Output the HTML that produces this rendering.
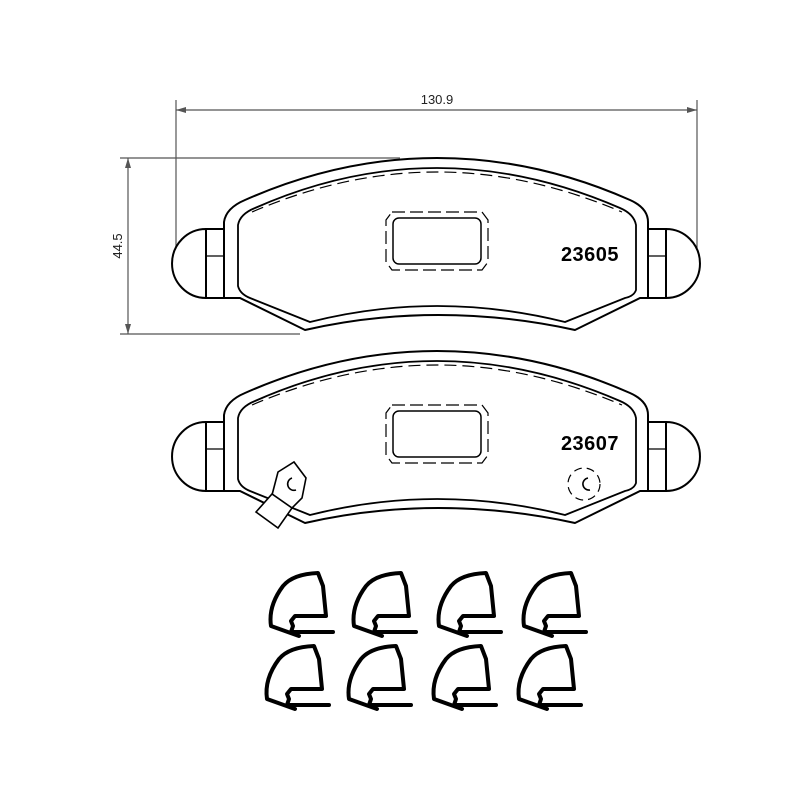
<!DOCTYPE html>
<html><head><style>body{margin:0;background:#fff}svg{display:block}</style></head><body>
<svg width="800" height="800" viewBox="0 0 800 800" xmlns="http://www.w3.org/2000/svg">
<defs>
<g id="pad" fill="none" stroke="#000" stroke-width="2">
  <path d="M206,229 A34,34.5 0 0 0 206,298 Z" fill="#fff"/>
  <rect x="206" y="229" width="18" height="69"/>
  <line x1="206" y1="256" x2="224" y2="256" stroke-width="1.2"/>
  <path d="M666,229 A34,34.5 0 0 1 666,298 Z" fill="#fff"/>
  <rect x="648" y="229" width="18" height="69"/>
  <line x1="648" y1="256" x2="666" y2="256" stroke-width="1.2"/>
  <path d="M224,298 L224,222 Q226,208 245,200 Q340,158 437,158 Q535,158 630,200 Q648,208 648,222 L648,298 L640,298 L575,330 Q437,300 305,330 L240,298 Z" fill="#fff"/>
  <path d="M238,225 Q240,214 255,208 Q345,168 437,168 Q528,168 620,208 Q634,214 636,225 L636,290 Q634,296 625,298 L565,322 Q437,290 310,322 L250,298 Q240,294 238,286 Z" stroke-width="1.8"/>
  <path d="M252,212 Q345,172 437,172 Q528,172 622,212" stroke-width="1.2" stroke-dasharray="12,6"/>
  <path d="M392,212 L482,212 L488,220 L488,262 L482,270 L392,270 L386,262 L386,220 Z" stroke-width="1.2" stroke-dasharray="13,5"/>
  <rect x="393" y="218" width="88" height="46" rx="6" stroke-width="1.5"/>
</g>
<g id="clip" fill="none" stroke="#000" stroke-width="4" stroke-linejoin="round" stroke-linecap="round">
  <path d="M41,70 L13,60 Q10,40 25,20 Q35,8 60,7 L65,20 L68,50 L37,50 L33,55 L35,60 L33,66 L75,66"/>
</g>
</defs>
<g stroke="#555" stroke-width="1.2" fill="none">
  <line x1="176" y1="100" x2="176" y2="250"/>
  <line x1="697" y1="100" x2="697" y2="250"/>
  <line x1="176" y1="110" x2="697" y2="110"/>
  <line x1="120" y1="158" x2="400" y2="158"/>
  <line x1="120" y1="334" x2="300" y2="334"/>
  <line x1="128" y1="158" x2="128" y2="334"/>
</g>
<g fill="#555">
  <path d="M176,110 l10,-3 l0,6 z"/><path d="M697,110 l-10,-3 l0,6 z"/>
  <path d="M128,158 l-3,10 l6,0 z"/><path d="M128,334 l-3,-10 l6,0 z"/>
</g>
<text x="437" y="104" font-family="Liberation Sans, sans-serif" font-size="13" text-anchor="middle" fill="#222">130.9</text>
<text transform="translate(122,246) rotate(-90)" font-family="Liberation Sans, sans-serif" font-size="13" text-anchor="middle" fill="#222">44.5</text>
<use href="#pad"/>
<text x="590" y="261" font-family="Liberation Sans, sans-serif" font-weight="bold" font-size="20" letter-spacing="0.5" text-anchor="middle">23605</text>
<use href="#pad" transform="translate(0,193)"/>
<text x="590" y="450" font-family="Liberation Sans, sans-serif" font-weight="bold" font-size="20" letter-spacing="0.5" text-anchor="middle">23607</text>
<g fill="none" stroke="#000" stroke-width="1.6">
  <path d="M278,472 L294,462 L306,478 L302,498 L290,510 L272,495 Z" fill="#fff"/>
  <path d="M256,512 L272,494 L292,508 L278,528 Z" fill="#fff"/>
  <path d="M292,478 A6,6 0 1 0 296,490"/>
  <circle cx="584" cy="484" r="16" stroke-dasharray="8,5" stroke-width="1.2"/>
  <path d="M588,478 A6,6 0 1 0 590,490"/>
</g>
<use href="#clip" transform="translate(258,566)"/>
<use href="#clip" transform="translate(341,566)"/>
<use href="#clip" transform="translate(426,566)"/>
<use href="#clip" transform="translate(511,566)"/>
<use href="#clip" transform="translate(254,639)"/>
<use href="#clip" transform="translate(336,639)"/>
<use href="#clip" transform="translate(421,639)"/>
<use href="#clip" transform="translate(506,639)"/>
</svg>
</body></html>
